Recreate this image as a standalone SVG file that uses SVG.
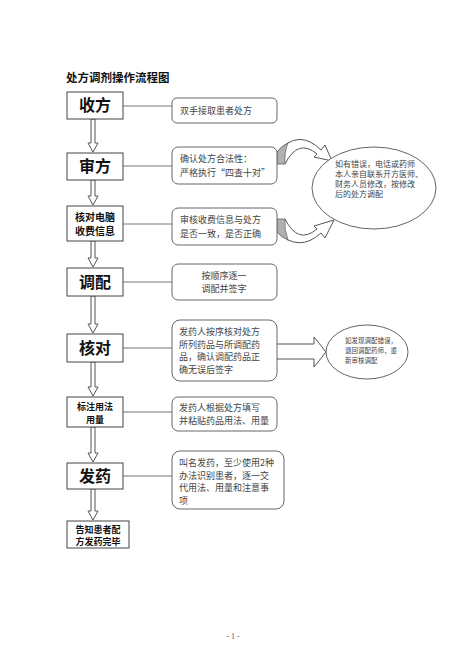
<svg xmlns="http://www.w3.org/2000/svg" width="465" height="657" viewBox="0 0 465 657">
<style>
.bx{fill:#fff;stroke:#444;stroke-width:1}
.tb{fill:#fff;stroke:#666;stroke-width:1}
.lbl{font-family:"Noto Sans CJK SC","Liberation Sans",sans-serif;font-weight:bold;fill:#111;text-anchor:middle}
.t{font-family:"Noto Sans CJK SC","Liberation Sans",sans-serif;font-size:9px;fill:#444}
.e{font-family:"Noto Sans CJK SC","Liberation Sans",sans-serif;fill:#444}
.ar{fill:#fff;stroke:#555;stroke-width:1}
.ln{stroke:#777;stroke-width:1;fill:none}
.gr{fill:#b0b0b0;stroke:#666;stroke-width:0.8}
</style>
<rect width="465" height="657" fill="#fff"/>
<text x="66" y="82" style="font-family:'Noto Sans CJK SC',sans-serif;font-weight:bold;font-size:11.5px;fill:#111">处方调剂操作流程图</text>

<g id="connectors">
  <path class="ar" d="M91,119 L91,143 L88,143 L93,152 L98,143 L95,143 L95,119 Z"/>
  <path class="ar" d="M91,180 L91,196 L88,196 L93,205 L98,196 L95,196 L95,180 Z"/>
  <path class="ar" d="M91,241 L91,258 L88,258 L93,267 L98,258 L95,258 L95,241 Z"/>
  <path class="ar" d="M91,296 L91,324 L88,324 L93,333 L98,324 L95,324 L95,296 Z"/>
  <path class="ar" d="M91,362 L91,387 L88,387 L93,396 L98,387 L95,387 L95,362 Z"/>
  <path class="ar" d="M91,427 L91,453 L88,453 L93,462 L98,453 L95,453 L95,427 Z"/>
  <path class="ar" d="M91,489 L91,511 L88,511 L93,520 L98,511 L95,511 L95,489 Z"/>
  <line class="ln" x1="123" y1="106" x2="172" y2="106"/>
  <line class="ln" x1="123" y1="166" x2="172" y2="166"/>
  <line class="ln" x1="123" y1="224" x2="172" y2="224"/>
  <line class="ln" x1="123" y1="282" x2="172" y2="282"/>
  <line class="ln" x1="123" y1="348" x2="172" y2="348"/>
  <line class="ln" x1="123" y1="412" x2="172" y2="412"/>
  <line class="ln" x1="123" y1="476" x2="172" y2="476"/>
  <path class="ar" d="M277,344 L314,344 L314,337 L326,352 L314,367 L314,359 L277,359"/>
  <path class="ar" d="M277,152 Q299,128 321,150 L325,145 L332,161 L314,157 L317,154 Q298,138 285,164 Z"/>
  <path class="gr" d="M277,152 Q281,146 288,143 Q284,152 285,164 L277,164 Z"/>
  <path class="ar" d="M277,232 Q299,253 321,233 L325,238 L334,220 L314,226 L317,229 Q298,245 285,219 Z"/>
  <path class="gr" d="M277,232 Q281,237 288,240 Q284,230 285,219 L277,219 Z"/>
</g>

<g id="n1"><rect class="bx" x="67" y="92" width="56" height="27"/><text class="lbl" x="95" y="111" font-size="16">收方</text></g>
<g id="n1t"><rect class="tb" x="172" y="98" width="105" height="25" rx="5"/><text class="t" x="180" y="114">双手接取患者处方</text></g>

<g id="n2"><rect class="bx" x="67" y="153" width="56" height="27"/><text class="lbl" x="95" y="172" font-size="16">审方</text></g>
<g id="n2t"><rect class="tb" x="172" y="147" width="105" height="37" rx="6"/><text class="t" x="180" y="162">确认处方合法性：</text><text class="t" x="180" y="176">严格执行“四查十对”</text></g>

<g id="n3"><rect class="bx" x="67" y="206" width="56" height="35"/><text class="lbl" x="95" y="221" font-size="10">核对电脑</text><text class="lbl" x="95" y="235" font-size="10">收费信息</text></g>
<g id="n3t"><rect class="tb" x="172" y="208" width="105" height="37" rx="6"/><text class="t" x="180" y="223">审核收费信息与处方</text><text class="t" x="180" y="237">是否一致，是否正确</text></g>

<g id="n4"><rect class="bx" x="67" y="268" width="56" height="28"/><text class="lbl" x="95" y="288" font-size="16">调配</text></g>
<g id="n4t"><rect class="tb" x="172" y="264" width="105" height="36" rx="6"/><text class="t" x="224" y="279" text-anchor="middle">按顺序逐一</text><text class="t" x="224" y="292" text-anchor="middle">调配并签字</text></g>

<g id="n5"><rect class="bx" x="67" y="334" width="56" height="28"/><text class="lbl" x="95" y="354" font-size="16">核对</text></g>
<g id="n5t"><rect class="tb" x="172" y="320" width="105" height="61" rx="8"/><text class="t" x="179" y="335">发药人按序核对处方</text><text class="t" x="179" y="347.5">所列药品与所调配药</text><text class="t" x="179" y="360">品，确认调配药品正</text><text class="t" x="179" y="372.5">确无误后签字</text></g>

<g id="n6"><rect class="bx" x="67" y="397" width="56" height="30"/><text class="lbl" x="95" y="410" font-size="9">标注用法</text><text class="lbl" x="95" y="423" font-size="9">用量</text></g>
<g id="n6t"><rect class="tb" x="172" y="397" width="105" height="34" rx="6"/><text class="t" x="179" y="411">发药人根据处方填写</text><text class="t" x="179" y="424">并粘贴药品用法、用量</text></g>

<g id="n7"><rect class="bx" x="67" y="463" width="56" height="26"/><text class="lbl" x="95" y="482" font-size="16">发药</text></g>
<g id="n7t"><rect class="tb" x="172" y="451" width="112" height="58" rx="8"/><text class="t" x="179" y="466">叫名发药，至少使用2种</text><text class="t" x="179" y="478.5">办法识别患者，逐一交</text><text class="t" x="179" y="491">代用法、用量和注意事</text><text class="t" x="179" y="503.5">项</text></g>

<g id="n8"><rect class="bx" x="67" y="521" width="62" height="27"/><text class="lbl" x="98" y="533" font-size="9">告知患者配</text><text class="lbl" x="98" y="545" font-size="9">方发药完毕</text></g>

<g id="e1"><ellipse class="tb" cx="374" cy="188" rx="62" ry="41"/>
<text class="e" font-size="8" x="335" y="167">如有错误，电话或药师</text>
<text class="e" font-size="8" x="335" y="177">本人亲自联系开方医师、</text>
<text class="e" font-size="8" x="335" y="187">财务人员修改，按修改</text>
<text class="e" font-size="8" x="335" y="197">后的处方调配</text></g>

<g id="e2"><ellipse class="tb" cx="367" cy="352" rx="41" ry="27"/>
<text class="e" font-size="6.5" x="345" y="343">如发现调配错误，</text>
<text class="e" font-size="6.5" x="345" y="353">退回调配药师，重</text>
<text class="e" font-size="6.5" x="345" y="363">新审核调配</text></g>

<text x="233" y="639" text-anchor="middle" style="font-family:'Liberation Serif',serif;font-size:8px;fill:#555">- 1 -</text>
</svg>
